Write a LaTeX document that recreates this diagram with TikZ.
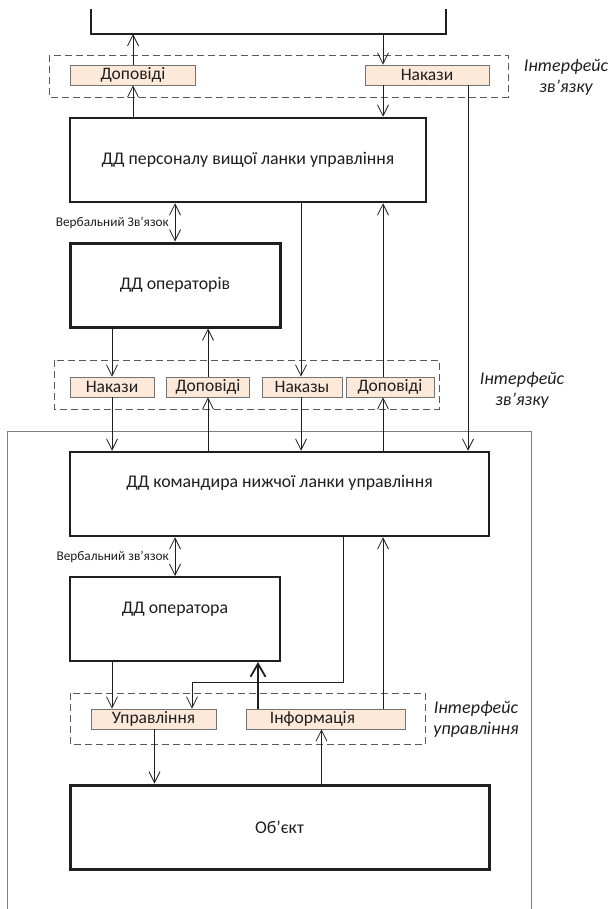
\documentclass[tikz,border=0pt]{standalone}
\usepackage{fontspec}
\setmainfont{Carlito}
\usetikzlibrary{arrows.meta}
\definecolor{peach}{HTML}{FCE9DA}
\definecolor{ink}{HTML}{1F1F1F}
\definecolor{frame}{HTML}{7F7F7F}
\begin{document}
\begin{tikzpicture}[x=1pt,y=-1pt,
  >={Straight Barb[length=11pt,width=11pt]},
  ln/.style={draw=ink, line width=0.8pt},
  arr/.style={ln,->},
  bigbox/.style={draw=ink, fill=white, rectangle, inner sep=0pt, text=ink,
    font=\fontsize{17.8}{20}\selectfont},
  bigtext/.style={inner sep=0pt, text=ink, font=\fontsize{17.8}{20}\selectfont},
  smalltext/.style={inner sep=0pt, text=ink, font=\fontsize{17.5}{19}\selectfont},
  smallbox/.style={draw=black!55, line width=0.8pt, fill=peach, rectangle, inner sep=0pt,
    minimum height=20pt, text=ink, font=\fontsize{17.5}{19}\selectfont},
  dbox/.style={draw=black!65, line width=0.8pt, dash pattern=on 7pt off 4pt},
  ilabel/.style={font=\fontsize{18}{21}\selectfont\itshape, align=center, text=ink},
  vlabel/.style={font=\fontsize{13.3}{15}\selectfont, anchor=east, text=ink, inner sep=0pt},
]
\useasboundingbox (0,0) rectangle (610,909);

% outer frame
\draw[draw=frame, line width=1pt] (7,915) -- (7,431) -- (531,431) -- (531,915);

% top bracket
\draw[draw=ink, line width=2pt] (91,9) -- (91,34) -- (446,34) -- (446,9);

% dashed interface boxes
\draw[dbox] (49,55) rectangle (508,97);
\draw[dbox] (54,360) rectangle (439,409);
\draw[dbox] (70,693) rectangle (425.5,744);

% main boxes
\node[bigbox, line width=2.5pt, minimum width=356pt, minimum height=84pt] (pers) at (248,160)
  {ДД персоналу вищої ланки управління};
\node[bigbox, line width=3pt, minimum width=210pt, minimum height=84pt] (ops) at (175,285)
  {ДД операторів};
\node[bigbox, line width=2.5pt, minimum width=419pt, minimum height=84pt] (cmd) at (279.5,494) {};
\node[bigtext] at ([yshift=11pt]cmd.center) {ДД командира нижчої ланки управління};
\node[bigbox, line width=2pt, minimum width=210pt, minimum height=84pt] (opr) at (175,619) {};
\node[bigtext] at ([yshift=10pt]opr.center) {ДД оператора};
\node[bigbox, line width=3pt, minimum width=419pt, minimum height=84pt] (obj) at (279.5,827)
  {Об’єкт};

% small boxes
\node[smallbox, minimum width=125pt] (dop1) at (133,75) {Доповіді};
\node[smallbox, minimum width=124pt] (nak1) at (427,75) {Накази};
\node[smallbox, minimum width=84pt] (nak2) at (112,387) {Накази};
\node[smallbox, minimum width=83pt] (dop2) at (208,387) {Доповіді};
\node[smallbox, minimum width=80pt] (nakazy) at (302,387) {Наказы};
\node[smallbox, minimum width=88pt] (dop3) at (390,387) {Доповіді};
\node[smallbox, minimum width=125pt] (upr) at (153.5,719) {Управління};
\node[smallbox, minimum width=159pt] (inf) at (325.5,719) {};
\node[smalltext] at ([xshift=-13pt]inf.center) {Інформація};

% labels
\node[ilabel] at (566,77) {Інтерфейс\\зв’язку};
\node[ilabel] at (522,390) {Інтерфейс\\зв’язку};
\node[ilabel] at (476,719) {Інтерфейс\\управління};
\node[vlabel] at (169,223) {Вербальний Зв’язок};
\node[vlabel] at (169,557) {Вербальний зв’язок};

% bracket coordinates
\coordinate (brA) at (dop1.north |- 0,34);
\coordinate (brB) at (383,34);
\coordinate (bend) at (192,682);

% connectors
\draw[arr] (dop1.north) -- (brA);
\draw[arr] (dop1.south |- pers.north) -- (dop1.south);
\draw[arr] (brB) -- (brB |- nak1.north);
\draw[arr] (brB |- nak1.south) -- (brB |- pers.north);
\draw[arr] (468,0 |- nak1.south) -- (468,0 |- cmd.north);
\draw[ln,<->] (ops.north |- pers.south) -- (ops.north);
\draw[arr] (301,0 |- pers.south) -- (301,0 |- nakazy.north);
\draw[arr] (383,0 |- dop3.north) -- (383,0 |- pers.south);
\draw[arr] (nak2.south |- ops.south) -- (nak2.north);
\draw[arr] (208,0 |- dop2.north) -- (208,0 |- ops.south);
\draw[arr] (nak2.south) -- (nak2.south |- cmd.north);
\draw[arr] (208,0 |- cmd.north) -- (208,0 |- dop2.south);
\draw[arr] (301,0 |- nakazy.south) -- (301,0 |- cmd.north);
\draw[arr] (383,0 |- cmd.north) -- (383,0 |- dop3.south);
\draw[ln,<->] (opr.north |- cmd.south) -- (opr.north);
\draw[arr] (343,0 |- cmd.south) |- (bend) -- (bend |- upr.north);
\draw[arr] (383,0 |- inf.north) -- (383,0 |- cmd.south);
\draw[arr] (112,0 |- opr.south) -- (112,0 |- upr.north);
\draw[ln, line width=1.8pt, -{Straight Barb[length=13pt,width=15pt]}] (258,0 |- inf.north) -- (258,0 |- opr.south);
\draw[arr] (154.5,0 |- upr.south) -- (154.5,0 |- obj.north);
\draw[arr] (321.5,0 |- obj.north) -- (321.5,0 |- inf.south);
\end{tikzpicture}
\end{document}
